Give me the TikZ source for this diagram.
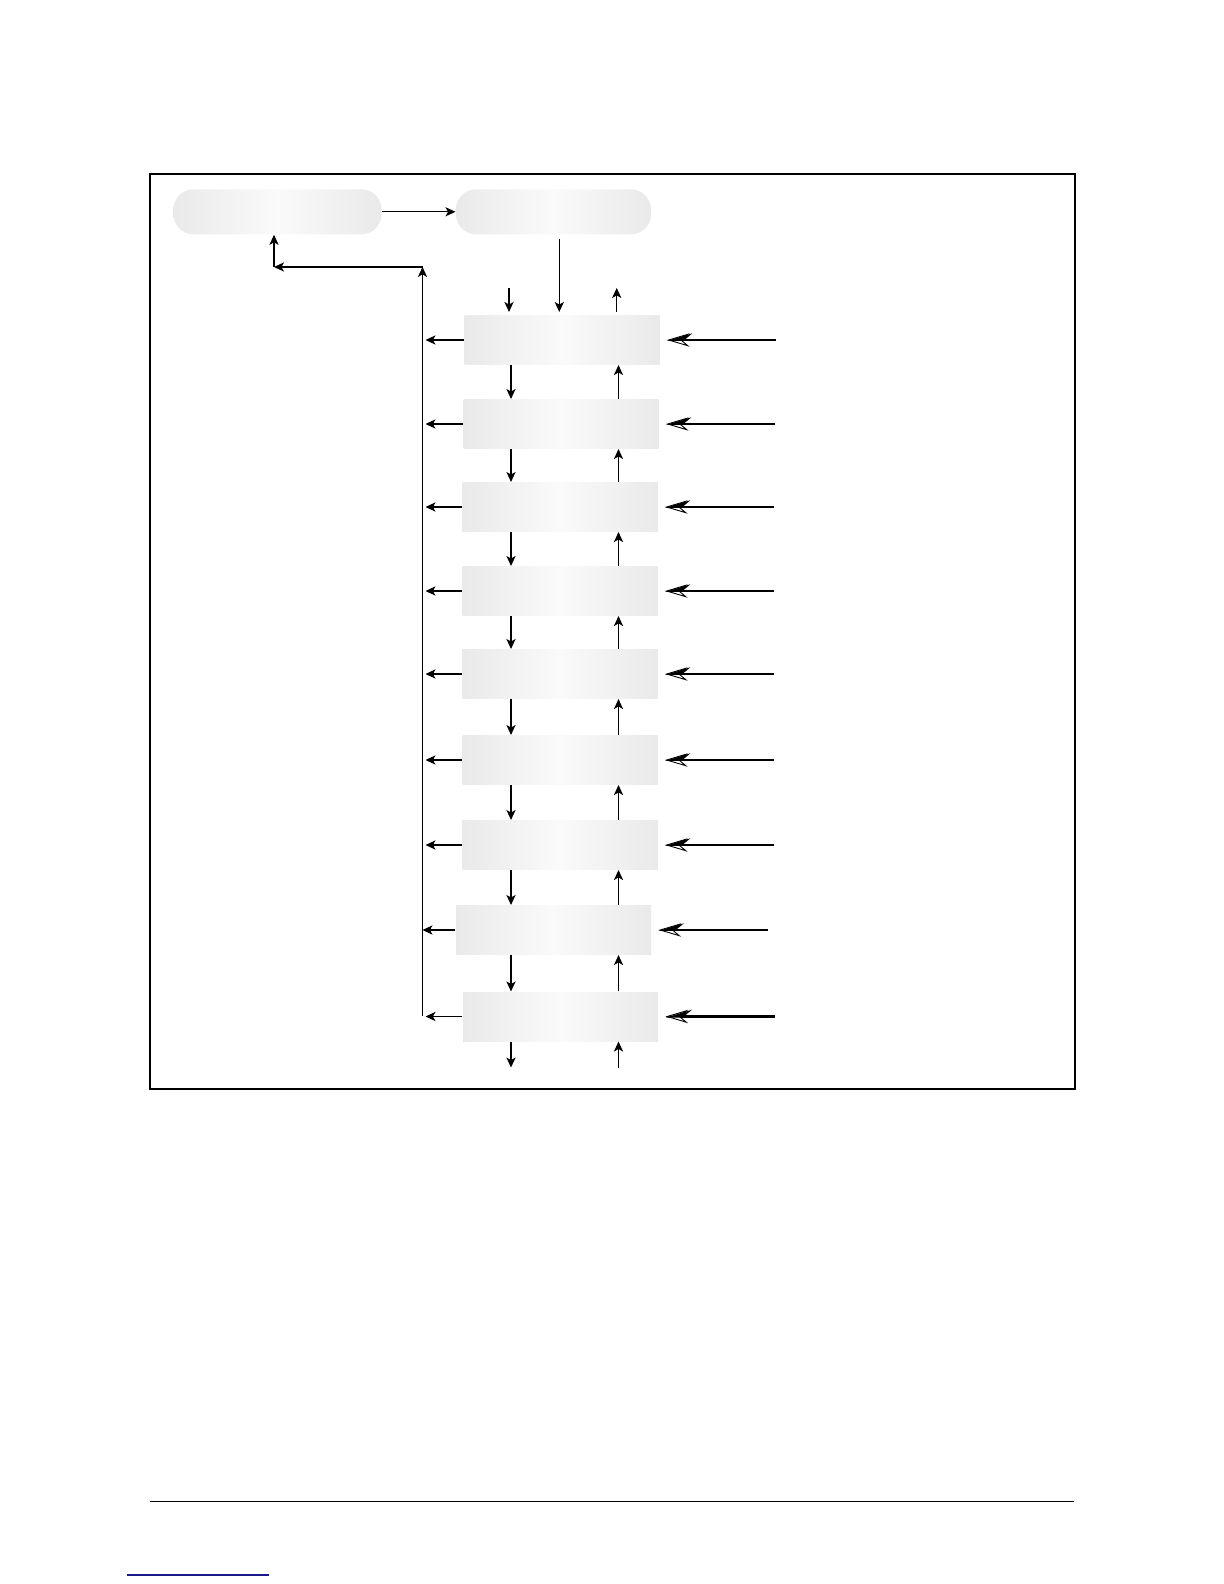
\documentclass[tikz,border=0pt]{standalone}
\usepackage{xcolor}
\usepackage{tikz}
\usetikzlibrary{arrows.meta}
\usetikzlibrary{positioning}
\definecolor{linkblue}{RGB}{25,25,140}
\tikzset{
    rnode/.style = {rectangle, rounded corners=10pt, draw=none, left color=gray!17, right color=gray!17, middle color=gray!4, minimum width=104pt, minimum height=22.5pt, inner sep=0pt},
    snode/.style = {rectangle, draw=none, left color=gray!17, right color=gray!17, middle color=gray!4, minimum width=97.5pt, minimum height=24.5pt, inner sep=0pt},
}

\begin{document}
\begin{tikzpicture}[
	x=0.5pt,
	y=-0.5pt,
	line width=0.55pt
]
\tikzset{
    edgea/.style = {-{Stealth[length=5pt,width=4.6pt,inset=1.3pt]}},
    edgeg/.style = {edgea, shorten >=1.5pt},
    edger/.style = {line width=0.8pt, shorten >=3.5pt,
        -{Stealth[open,length=11.3pt,width=6.7pt,inset=4pt,line width=0.45pt]},
        postaction={draw, -{Stealth[harpoon,swap,length=11.3pt,width=6.7pt,inset=4pt]}}},
    edgeR/.style = {edger, line width=1.1pt}
}
\useasboundingbox (0,0) rectangle (1224,1584);
\draw[line width=0.6pt] (150,174) rectangle (1075,1089);
%
\node[rnode] at (277.5,211.8) (a) {};
\node[rnode, minimum width=97.5pt] at (553.5,211.8) (b) {};
\node[snode] at (562,340) (s1) {};
\node[snode] at (561,424) (s2) {};
\node[snode] at (560,507) (s3) {};
\node[snode] at (560,591) (s4) {};
\node[snode] at (560,674) (s5) {};
\node[snode] at (560,760) (s6) {};
\node[snode] at (560,845) (s7) {};
\node[snode] at (553.5,930) (s8) {};
\node[snode] at (560.5,1016.5) (s9) {};
%
\coordinate (dn) at (511,288);
\coordinate (up) at (618.5,288);
\coordinate (bx) at (559.3,0);
\coordinate (tdn) at (509,288);
\coordinate (tup) at (616.7,288);
\coordinate (bdn) at (511,1067.5);
\coordinate (bup) at (618.5,1067.5);
\coordinate (bustop) at (422.5,267);
\coordinate (busbot) at (422.5,1016);
\coordinate (corner) at (274,267);
%
\draw[edgea] (a.east) -- (b.west);
\draw[edgeg, shorten <=2pt] (b.south -| bx) -- (s1.north -| bx);
\draw[edgeg] (tdn) -- (s1.north -| tdn);
\draw[edgea, shorten <=1.5pt] (s1.north -| tup) -- (tup);
%
\draw (busbot) -- ([yshift=-1pt]bustop);
\draw[edgea] (busbot) -- (bustop);
\draw[edgea] (bustop) -- (corner);
\draw[edgea] (corner) -- (a.south -| corner);
%
\draw[edgea] (s1.south -| dn) -- (s2.north -| dn);
\draw[edgea] (s2.south -| dn) -- (s3.north -| dn);
\draw[edgea] (s3.south -| dn) -- (s4.north -| dn);
\draw[edgea] (s4.south -| dn) -- (s5.north -| dn);
\draw[edgea] (s5.south -| dn) -- (s6.north -| dn);
\draw[edgea] (s6.south -| dn) -- (s7.north -| dn);
\draw[edgea] (s7.south -| dn) -- (s8.north -| dn);
\draw[edgea] (s8.south -| dn) -- (s9.north -| dn);
\draw[edgea] (s9.south -| dn) -- (bdn);
%
\draw[edgea] (s2.north -| up) -- (s1.south -| up);
\draw[edgea] (s3.north -| up) -- (s2.south -| up);
\draw[edgea] (s4.north -| up) -- (s3.south -| up);
\draw[edgea] (s5.north -| up) -- (s4.south -| up);
\draw[edgea] (s6.north -| up) -- (s5.south -| up);
\draw[edgea] (s7.north -| up) -- (s6.south -| up);
\draw[edgea] (s8.north -| up) -- (s7.south -| up);
\draw[edgea] (s9.north -| up) -- (s8.south -| up);
\draw[edgea] (bup) -- (s9.south -| up);
%
\draw[edgeg] (s1.west) -- (s1.west -| bustop);
\draw[edgeg] (s2.west) -- (s2.west -| bustop);
\draw[edgeg] (s3.west) -- (s3.west -| bustop);
\draw[edgeg] (s4.west) -- (s4.west -| bustop);
\draw[edgeg] (s5.west) -- (s5.west -| bustop);
\draw[edgeg] (s6.west) -- (s6.west -| bustop);
\draw[edgeg] (s7.west) -- (s7.west -| bustop);
\draw[edgea] (s8.west) -- (s8.west -| bustop);
\draw[edgeg] (s9.west) -- (s9.west -| bustop);
%
\coordinate[right=58pt of s1] (r1);
\coordinate[right=58pt of s2] (r2);
\coordinate[right=58pt of s3] (r3);
\coordinate[right=58pt of s4] (r4);
\coordinate[right=58pt of s5] (r5);
\coordinate[right=58pt of s6] (r6);
\coordinate[right=58pt of s7] (r7);
\coordinate[right=58pt of s8] (r8);
\coordinate[right=58pt of s9] (r9);
\draw[edger] (r1) -- (s1.east);
\draw[edger] (r2) -- (s2.east);
\draw[edger] (r3) -- (s3.east);
\draw[edger] (r4) -- (s4.east);
\draw[edger] (r5) -- (s5.east);
\draw[edger] (r6) -- (s6.east);
\draw[edger] (r7) -- (s7.east);
\draw[edger] (r8) -- (s8.east);
\draw[edgeR] (r9) -- (s9.east);
%
\draw[line width=0.6pt] (150,1501.3) -- (1074,1501.3);
\draw[linkblue, line width=0.6pt] (127.3,1575) -- (268.7,1575);
\end{tikzpicture}
\end{document}
